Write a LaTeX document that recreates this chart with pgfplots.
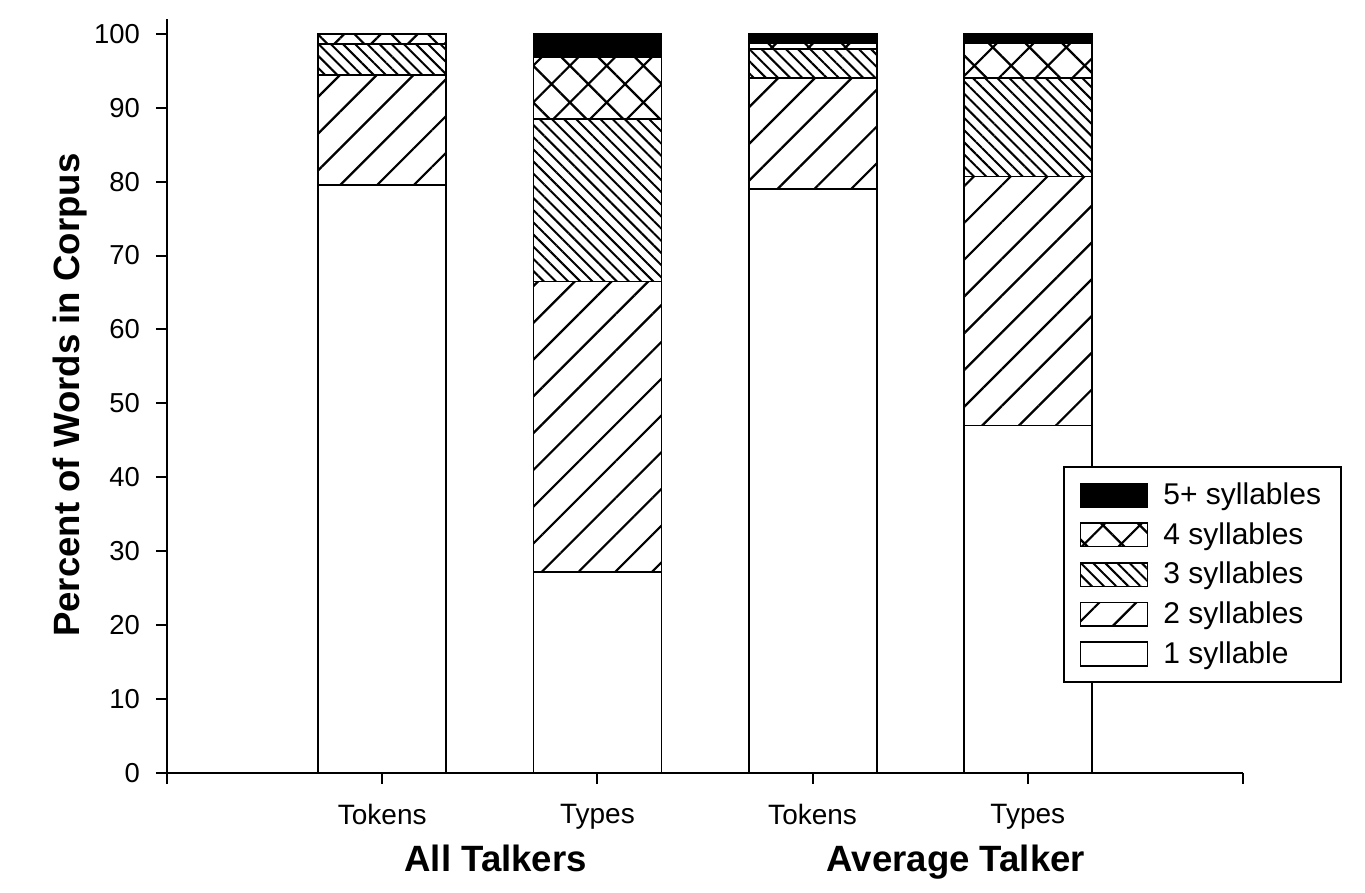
\documentclass[border=0pt]{standalone}
\usepackage{fontspec}
\setmainfont{Liberation Sans}
\usepackage{pgfplots}
\pgfplotsset{compat=1.18}
\usetikzlibrary{patterns.meta}

% swatch used for every legend entry
\pgfplotsset{
  syl legend/.style={legend image code/.code={
      \draw[##1, line width=0.8bp] (0bp,-5.9bp) rectangle (33.5bp,5.9bp);
      \path (39bp,0bp);}},
}

\begin{document}
\begin{tikzpicture}
\path[use as bounding box] (-83.5bp,-60bp) rectangle (599bp,386.5bp);
\begin{axis}[
    at={(0,0)}, anchor=south west,
    scale only axis, width=538bp, height=377bp,
    ybar stacked, bar width=64bp,
    xmin=0, xmax=5, ymin=0, ymax=102,
    clip=false,
    axis x line*=bottom, axis y line*=left,
    axis line style={line width=1.3bp},
    xtick={0,1,2,3,4,5},
    xticklabels={,Tokens,Types,Tokens,Types,},
    ytick={0,10,...,100},
    tick align=outside, major tick length=5.5bp,
    tick style={line width=1bp, black},
    /pgf/number format/assume math mode=true,
    xticklabel style={font=\fontsize{14bp}{16bp}\selectfont, yshift=-6.5bp},
    yticklabel style={font=\fontsize{13.7bp}{16bp}\selectfont, xshift=-4.5bp},
    reverse legend,
    legend cell align=left,
    legend style={at={(rel axis cs:0.8327,0.4072)}, anchor=north west,
        draw=black, line width=0.8bp,
        font=\fontsize{15bp}{17bp}\selectfont,
        row sep=3.5bp, inner xsep=8bp, inner ysep=6bp},
]
% 1 syllable
\addplot[draw=black, line width=0.9bp, fill=white, syl legend] coordinates {(1,79.5) (2,27.2) (3,79.0) (4,47.0)};
% 2 syllables
\addplot[draw=black, line width=0.9bp, pattern={Lines[angle=45,distance=13bp,line width=1.1bp]}, syl legend] coordinates {(1,14.95) (2,39.3) (3,15.0) (4,33.7)};
% 3 syllables
\addplot[draw=black, line width=0.9bp, pattern={Lines[angle=-45,distance=4.3bp,line width=1bp]}, syl legend] coordinates {(1,4.2) (2,22.0) (3,3.9) (4,13.3)};
% 4 syllables
\addplot[draw=black, line width=0.9bp, pattern={Hatch[angle=45,distance=13bp,line width=1.1bp]}, syl legend] coordinates {(1,1.35) (2,8.3) (3,0.9) (4,4.8)};
% 5+ syllables
\addplot[draw=black, line width=0.9bp, fill=black, syl legend] coordinates {(1,0) (2,3.2) (3,1.2) (4,1.2)};
\legend{1 syllable,2 syllables,3 syllables,4 syllables,5+ syllables}

\node[font=\bfseries\fontsize{18.3bp}{21bp}\selectfont, anchor=base, yshift=-49bp] at (axis cs:1.527,0) {All Talkers};
\node[font=\bfseries\fontsize{18.3bp}{21bp}\selectfont, anchor=base, yshift=-49bp] at (axis cs:3.666,0) {Average Talker};
\node[font=\bfseries\fontsize{18.3bp}{21bp}\selectfont, anchor=base, xshift=-43.5bp, rotate=90] at (rel axis cs:0,0.501) {Percent of Words in Corpus};
\end{axis}
\end{tikzpicture}
\end{document}
